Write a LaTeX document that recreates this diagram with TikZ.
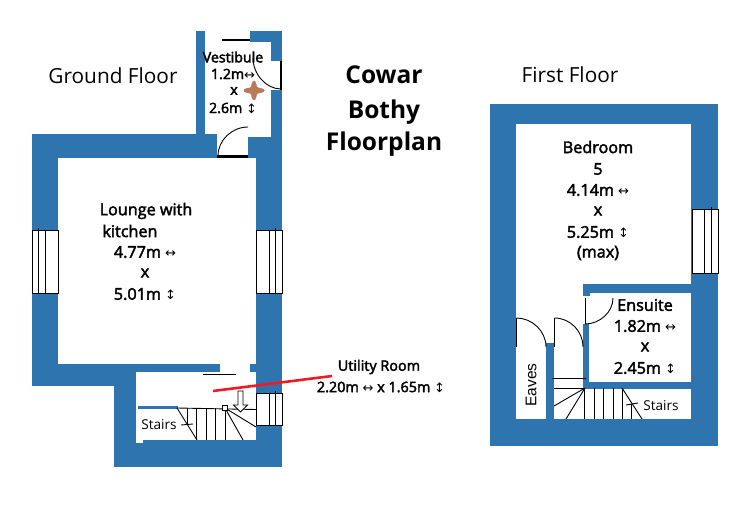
\documentclass[tikz,border=0pt]{standalone}
\usepackage{fontspec}
\setmainfont{Open Sans}
\newfontfamily\symf{DejaVu Sans}
\newfontfamily\arialf{Liberation Sans}
\definecolor{wallblue}{HTML}{2E75B0}
\definecolor{cross}{HTML}{B97A57}
\definecolor{redline}{HTML}{ED1C24}
\newcommand{\lr}{{\symf\fontsize{13}{13}\selectfont↔}}
\newcommand{\ud}{{\symf\fontsize{13}{13}\selectfont↕}}
\newcommand{\hv}[1]{\special{pdf:code 2 Tr 0.4 w}#1\special{pdf:code 0 Tr}}
\tikzset{
  wall/.style={fill=wallblue,draw=none},
  room/.style={fill=white,draw=none},
  win/.style={fill=white,draw=black,line width=1pt},
  thin line/.style={draw=black,line width=0.9pt},
  thick line/.style={draw=black,line width=2.5pt},
  lab/.style={inner sep=0pt,font=\fontsize{16.2}{17}\selectfont},
  vlab/.style={inner sep=0pt,font=\fontsize{14.2}{15}\selectfont},
  ulab/.style={inner sep=0pt,font=\fontsize{14.4}{15}\selectfont},
  small lab/.style={inner sep=0pt,font=\fontsize{13.6}{14}\selectfont},
  head/.style={inner sep=0pt,font=\fontsize{20.8}{22}\selectfont},
  titl/.style={inner sep=0pt,font=\bfseries\fontsize{24.5}{25}\selectfont},
}
\begin{document}
\begin{tikzpicture}[x=1pt,y=-1pt]
\useasboundingbox (0,0) rectangle (739,508);
% ground floor walls
\fill[wall] (32,134) rectangle (282,386);
\fill[wall] (196,31) rectangle (205,135);
\fill[wall] (196,31) rectangle (222,42);
\fill[wall] (250,31) rectangle (271,42);
\fill[wall] (271,31) rectangle (282,61);
\fill[wall] (271,90) rectangle (282,137);
\fill[wall] (114,386) rectangle (136,466);
\fill[wall] (114,440) rectangle (282,467);
\fill[wall] (256,386) rectangle (282,440);
% ground floor rooms
\fill[room] (205,31) rectangle (250,134);
\fill[room] (205,42) rectangle (271,134);
\fill[room] (217,134) rectangle (248,158);
\fill[room] (248,134) rectangle (271,137);
\fill[wall] (32,134) rectangle (205,158);
\fill[room] (58,158) rectangle (256,364);
\fill[room] (136,372) rectangle (256,440);
\fill[room] (136,440) rectangle (143,443);
\fill[room] (220,364) rectangle (250,372);
\fill[wall] (138,406) rectangle (178,409);
% ground floor windows
\draw[win] (32,230) rectangle (58,293);
\draw[thin line] (38.5,228) -- (38.5,293) (45.5,230) -- (45.5,293);
\draw[win] (256,230) rectangle (282,293);
\draw[thin line] (269.5,230) -- (269.5,293) (275.5,228) -- (275.5,293);
\draw[win] (256,393) rectangle (282,425);
\draw[thin line] (269.5,393) -- (269.5,425) (275.5,391) -- (275.5,425);
% vestibule doors
\draw[thick line] (222,40) -- (250,40);
\draw[thick line] (281,61) -- (281,90);
\draw[thick line] (217,156.5) -- (248,156.5);
\draw[thin line] (253,58) .. controls (253,74) and (266,89) .. (281,89);
\draw[thin line] (218,156) .. controls (218,140) and (232,127) .. (248,127);
\draw[thin line] (203,374.5) -- (236,374.5);
% ground floor stairs
\draw[thin line] (177,408) -- (256,409.5);
\draw[thin line] (177,408) -- (197,440);
\draw[thin line] (187,408) -- (187,425) (196.5,408) -- (196.5,440) (206,408) -- (206,440) (215.5,408) -- (215.5,440) (225,408) -- (225,440);
\draw[thin line] (225,408) -- (243,440) (225,408) -- (256,427);
\draw[thin line] (181,425) -- (193,424);
\draw[thin line,fill=white] (222.5,405.5) rectangle (227.5,410.5);
\draw[thin line,fill=white] (238,391) -- (243,391) -- (243,405) -- (247.5,405) -- (240.5,412) -- (233.5,405) -- (238,405) -- cycle;
\draw[draw=redline,line width=2.6pt] (213,391) -- (332,376);
% first floor walls
\fill[wall] (490,104) rectangle (718,446);
\fill[room] (516,124) rectangle (691,284);
\fill[room] (516,284) rectangle (583,419);
\fill[room] (583,389) rectangle (691,419);
\fill[room] (589,293) rectangle (691,382);
\fill[room] (583,296) rectangle (589,324);
\fill[wall] (546,343) rectangle (554,446);
\fill[wall] (583,284) rectangle (590,296);
\fill[wall] (583,324) rectangle (589,388);
\draw[win] (692,209) rectangle (718,273);
\draw[thin line] (704.5,209) -- (704.5,273) (711,207) -- (711,273);
% first floor doors
\draw[thin line] (516.5,318) -- (516.5,347);
\draw[thin line] (516.5,318) .. controls (532,318) and (546,331) .. (546,347);
\draw[thin line] (554.5,318) -- (554.5,347);
\draw[thin line] (554.5,318) .. controls (570,318) and (583,331) .. (583,347);
\draw[thin line] (585,298) -- (585,324);
\draw[thin line] (585,324) .. controls (600,324) and (613,312) .. (613,298);
% first floor stairs
\draw[thin line] (552,378.5) -- (586,378.5) (554,388.5) -- (585,388.5);
\draw[thin line] (585,388) -- (554,406) (585,388) -- (566,419);
\draw[thin line] (584.5,388) -- (584.5,419) (594,388) -- (594,419) (603.5,388) -- (603.5,419) (613,388) -- (613,419) (622,388) -- (622,419) (631,404) -- (631,419);
\draw[thin line] (622,388) -- (642,419);
\draw[thin line] (626,405) -- (638,403);
% plant
\fill[cross] (254,90.5) ellipse [x radius=10.5,y radius=3.2];
\fill[cross] (254,90.5) ellipse [x radius=3.2,y radius=9.8];
\fill[cross] (254,90.5) circle [radius=5];
% texts
\node[head] (gf) at (113,76) {Ground Floor};
\node[head] (ff) at (570,75) {First Floor};
\node[titl] (t1) at (384,75) {Cowar};
\node[titl] (t2) at (384,112) {Bothy};
\node[titl] (t3) at (384,144) {Floorplan};
\node[vlab] (v1) at (233,57) {\hv{Vestibule}};
\node[vlab] (v2) at (233,74) {\hv{1.2m}\lr};
\node[vlab] (v3) at (234,91) {\hv{x}};
\node[vlab] (v4) at (233,108) {\hv{2.6m} \ud};
\node[lab] (l1) at (146,211) {\hv{Lounge with}};
\node[lab] (l2) at (130,231) {\hv{kitchen}};
\node[lab] (l3) at (145,252) {\hv{4.77m} \lr};
\node[lab] (l4) at (145,273) {\hv{x}};
\node[lab] (l5) at (145,294) {\hv{5.01m} \ud};
\node[lab] (b1) at (598,147) {\hv{Bedroom}};
\node[lab] (b2) at (598,169) {\hv{5}};
\node[lab] (b3) at (598,190) {\hv{4.14m} \lr};
\node[lab] (b4) at (598,211) {\hv{x}};
\node[lab] (b5) at (598,232) {\hv{5.25m} \ud};
\node[lab] (b6) at (598,253) {\hv{(max)}};
\node[lab] (e1) at (645,305) {\hv{Ensuite}};
\node[lab] (e2) at (645,326) {\hv{1.82m} \lr};
\node[lab] (e3) at (645,347) {\hv{x}};
\node[lab] (e4) at (645,368) {\hv{2.45m} \ud};
\node[ulab] (u1) at (379,367) {\hv{Utility Room}};
\node[ulab] (u2) at (381,387) {\hv{2.20m} \lr{} \hv{x 1.65m} \ud};
\node[small lab] (s1) at (159,425) {Stairs};
\node[small lab] (s2) at (661,406) {Stairs};
\node[inner sep=0pt,rotate=90,font=\arialf\fontsize{15.5}{16}\selectfont] (ea) at (531,385) {Eaves};
\end{tikzpicture}
\end{document}
